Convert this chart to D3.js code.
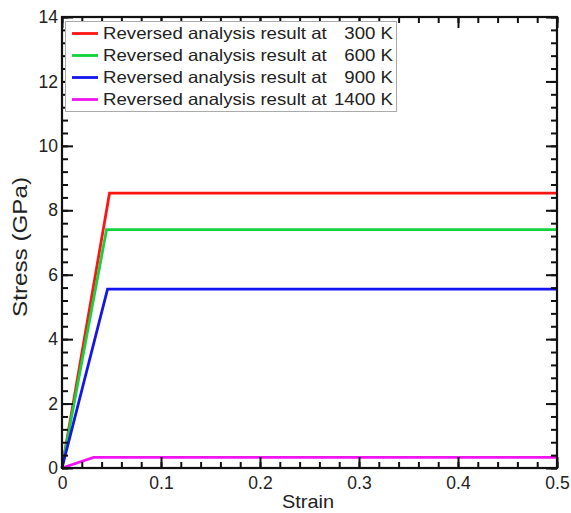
<!DOCTYPE html>
<html>
<head>
<meta charset="utf-8">
<script src="https://cdn.jsdelivr.net/npm/d3@7"></script>
<style>
  body { margin: 0; background: #fff; }
  text { font-family: "Liberation Sans", Arial, sans-serif; fill: #222; }
</style>
</head>
<body>
<svg id="chart" width="571" height="513"></svg>
<script>
// Stress–strain curves from reversed analysis (elastic ramp then plateau)
const temperatures = ["300 K", "600 K", "900 K", "1400 K"];
const colors = ["#ff1414", "#14d23c", "#1414f0", "#f014f0"];
const strain300 = [0, 0.048, 0.5];
const stress300 = [0, 8.53, 8.53];
const strain600 = [0, 0.045, 0.5];
const stress600 = [0, 7.40, 7.40];
const strain900 = [0, 0.046, 0.5];
const stress900 = [0, 5.55, 5.55];
const strain1400 = [0, 0.032, 0.5];
const stress1400 = [0, 0.33, 0.33];
const xTicks = [0, 0.1, 0.2, 0.3, 0.4, 0.5];
const yTicks = [0, 2, 4, 6, 8, 10, 12, 14];

const series = [
  { x: strain300, y: stress300 },
  { x: strain600, y: stress600 },
  { x: strain900, y: stress900 },
  { x: strain1400, y: stress1400 }
];

const svg = d3.select("#chart");
const plotLeft = 62, plotRight = 557, plotTop = 17, plotBottom = 468;
const x = d3.scaleLinear().domain([0, 0.5]).range([plotLeft, plotRight]);
const y = d3.scaleLinear().domain([0, 14]).range([plotBottom, plotTop]);

const line = d3.line().x(d => x(d[0])).y(d => y(d[1]));

// Data curves
const g = svg.append("g");
series.forEach((s, i) => {
  const pts = s.x.map((v, k) => [v, s.y[k]]);
  g.append("path")
    .attr("d", line(pts))
    .attr("fill", "none")
    .attr("stroke", colors[i])
    .attr("stroke-width", 2.8)
    .attr("stroke-linejoin", "miter");
});

// Axes with inward ticks on all four sides
const xMinor = d3.range(0, 0.5001, 0.02);
const yMinor = d3.range(0, 14.001, 0.4);

function addAxis(axis, tx, ty) {
  const a = svg.append("g").attr("transform", `translate(${tx},${ty})`).call(axis);
  a.select(".domain").remove();
  a.selectAll("line").attr("stroke", "#111").attr("stroke-width", 2);
  a.selectAll("text").attr("font-size", 17.5).attr("fill", "#222")
    .style("font-family", "Liberation Sans, Arial, sans-serif");
  return a;
}

// bottom
addAxis(d3.axisTop(x).tickValues(xMinor).tickSize(6).tickFormat(""), 0, plotBottom);
const xb = addAxis(d3.axisTop(x).tickValues(xTicks).tickSize(11).tickFormat(d3.format("")), 0, plotBottom);
xb.selectAll("text").attr("y", 21).attr("dy", 0);
// top
addAxis(d3.axisBottom(x).tickValues(xMinor).tickSize(6).tickFormat(""), 0, plotTop);
addAxis(d3.axisBottom(x).tickValues(xTicks).tickSize(11).tickFormat(""), 0, plotTop);
// left
addAxis(d3.axisRight(y).tickValues(yMinor).tickSize(6).tickFormat(""), plotLeft, 0);
const yl = addAxis(d3.axisRight(y).tickValues(yTicks).tickSize(11).tickFormat(d3.format("")), plotLeft, 0);
yl.selectAll("text").attr("x", -4).attr("text-anchor", "end");
// right
addAxis(d3.axisLeft(y).tickValues(yMinor).tickSize(6).tickFormat(""), plotRight, 0);
addAxis(d3.axisLeft(y).tickValues(yTicks).tickSize(11).tickFormat(""), plotRight, 0);

// Frame
svg.append("rect")
  .attr("x", plotLeft).attr("y", plotTop)
  .attr("width", plotRight - plotLeft).attr("height", plotBottom - plotTop)
  .attr("fill", "none").attr("stroke", "#111").attr("stroke-width", 2.2);

// Axis titles
svg.append("text")
  .attr("x", 308).attr("y", 508)
  .attr("text-anchor", "middle").attr("font-size", 18.5)
  .attr("textLength", 52).attr("lengthAdjust", "spacingAndGlyphs")
  .text("Strain");
svg.append("text")
  .attr("transform", `translate(27,247) rotate(-90)`)
  .attr("text-anchor", "middle").attr("font-size", 20)
  .attr("textLength", 140).attr("lengthAdjust", "spacingAndGlyphs")
  .text("Stress (GPa)");

// Legend
const lg = svg.append("g");
lg.append("rect")
  .attr("x", 65.5).attr("y", 21.5).attr("width", 331).attr("height", 90)
  .attr("fill", "#fff").attr("stroke", "#aaa").attr("stroke-width", 1);
const sx = 1.13;
temperatures.forEach((t, i) => {
  const cy = 33.5 + i * 22;
  lg.append("line")
    .attr("x1", 72).attr("x2", 98).attr("y1", cy).attr("y2", cy)
    .attr("stroke", colors[i]).attr("stroke-width", 2.8);
  const row = lg.append("g").attr("transform", `scale(${sx},1)`);
  row.append("text")
    .attr("x", 103 / sx).attr("y", cy + 6).attr("font-size", 16.5)
    .text("Reversed analysis result at");
  row.append("text")
    .attr("x", 393 / sx).attr("y", cy + 6).attr("font-size", 16.5)
    .attr("text-anchor", "end")
    .text(t);
});
</script>
</body>
</html>
